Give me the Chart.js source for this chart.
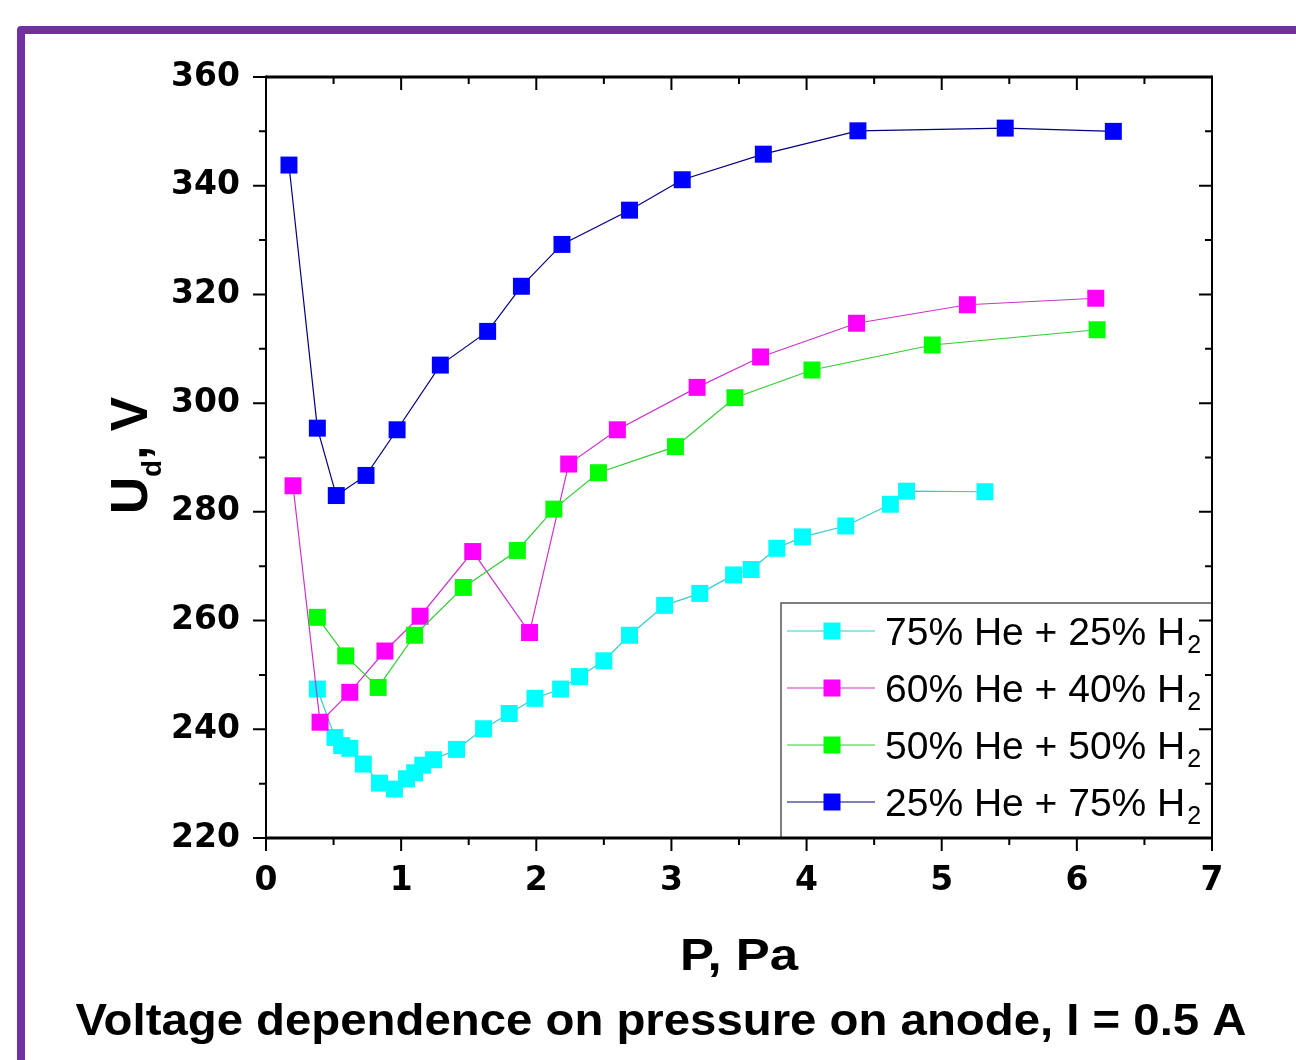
<!DOCTYPE html>
<html>
<head>
<meta charset="utf-8">
<script src="https://cdn.jsdelivr.net/npm/chart.js@4.4.1/dist/chart.umd.min.js"></script>
<style>
  html, body { margin: 0; padding: 0; background: #fff; }
  #caixa { position: relative; width: 1296px; height: 1060px; }
</style>
</head>
<body>
<div id="caixa"><canvas id="grafico" width="1296" height="1060"></canvas></div>
<script>
// P, Pa  x  U_d, V  para quatro misturas He + H2
const nomes = ['75% He + 25% H', '60% He + 40% H', '50% He + 50% H', '25% He + 75% H'];

const p75 = [0.38, 0.51, 0.56, 0.62, 0.72, 0.84, 0.95, 1.04, 1.10, 1.16, 1.24, 1.41, 1.61, 1.80, 1.99,
             2.18, 2.32, 2.50, 2.69, 2.95, 3.21, 3.46, 3.59, 3.78, 3.97, 4.29, 4.62, 4.74, 5.32];
const u75 = [247.4, 238.5, 237.0, 236.5, 233.6, 230.1, 229.0, 230.9, 232.0, 233.4, 234.4, 236.3, 240.1, 242.9, 245.7,
             247.4, 249.7, 252.6, 257.3, 262.8, 265.0, 268.4, 269.4, 273.3, 275.4, 277.4, 281.4, 283.8, 283.7];

const p60 = [0.20, 0.40, 0.62, 0.88, 1.14, 1.53, 1.95, 2.24, 2.60, 3.19, 3.66, 4.37, 5.19, 6.14];
const u60 = [284.8, 241.3, 246.8, 254.4, 260.8, 272.7, 257.8, 288.8, 295.1, 302.9, 308.5, 314.7, 318.1, 319.3];

const p50 = [0.38, 0.59, 0.83, 1.10, 1.46, 1.86, 2.13, 2.46, 3.03, 3.47, 4.04, 4.93, 6.15];
const u50 = [260.6, 253.5, 247.7, 257.3, 266.1, 272.9, 280.5, 287.2, 292.0, 301.0, 306.1, 310.7, 313.5];

const p25 = [0.17, 0.38, 0.52, 0.74, 0.97, 1.29, 1.64, 1.89, 2.19, 2.69, 3.08, 3.68, 4.38, 5.47, 6.27];
const u25 = [343.8, 295.4, 283.0, 286.7, 295.1, 307.0, 313.2, 321.5, 329.2, 335.5, 341.1, 345.8, 350.1, 350.6, 350.0];

const ticksX = [0, 1, 2, 3, 4, 5, 6, 7];
const ticksY = [220, 240, 260, 280, 300, 320, 340, 360];

const coresPonto = ['#00FFFF', '#FF00FF', '#00FF00', '#0000FF'];
const coresLinha = ['#33CCCC', '#CC33CC', '#33CC33', '#000080'];

const series = [[p75, u75], [p60, u60], [p50, u50], [p25, u25]];

function textoAjustado(ctx, txt, x, y, fonte, largura) {
  ctx.font = fonte;
  const w = ctx.measureText(txt).width;
  ctx.save();
  ctx.translate(x, y);
  ctx.scale(largura / w, 1);
  ctx.textAlign = 'center';
  ctx.textBaseline = 'alphabetic';
  ctx.fillText(txt, 0, 0);
  ctx.restore();
}

const moldura = {
  id: 'moldura',
  beforeDraw(chart) {
    const ctx = chart.ctx;
    ctx.save();
    ctx.fillStyle = '#fff';
    ctx.fillRect(0, 0, chart.width, chart.height);
    // borda roxa do slide
    ctx.strokeStyle = '#7030A0';
    ctx.lineWidth = 8;
    ctx.lineJoin = 'round';
    ctx.beginPath();
    ctx.moveTo(21, 1080);
    ctx.lineTo(21, 30);
    ctx.lineTo(1320, 30);
    ctx.stroke();
    ctx.restore();
  },
  afterDraw(chart) {
    const ctx = chart.ctx;
    const a = chart.chartArea;
    const sx = chart.scales.x, sy = chart.scales.y;
    ctx.save();

    // legenda
    ctx.fillStyle = '#fff';
    ctx.fillRect(781, 603, a.right - 781, a.bottom - 603);
    ctx.strokeStyle = '#555';
    ctx.lineWidth = 1.5;
    ctx.strokeRect(781, 603, a.right - 781, a.bottom - 603);
    const linhasLeg = [631, 688, 745, 802];
    for (let i = 0; i < nomes.length; i++) {
      const yy = linhasLeg[i];
      ctx.strokeStyle = coresLinha[i];
      ctx.lineWidth = 1.2;
      ctx.beginPath();
      ctx.moveTo(787, yy);
      ctx.lineTo(875, yy);
      ctx.stroke();
      ctx.fillStyle = coresPonto[i];
      ctx.fillRect(823.5, yy - 8.5, 17, 17);
      ctx.fillStyle = '#000';
      ctx.font = '39px "Liberation Sans", Arial, sans-serif';
      ctx.textAlign = 'left';
      ctx.textBaseline = 'alphabetic';
      ctx.fillText(nomes[i], 885, yy + 14);
      const w = ctx.measureText(nomes[i]).width;
      ctx.font = '25px "Liberation Sans", Arial, sans-serif';
      ctx.fillText('2', 885 + w + 2, yy + 22);
    }

    // moldura do gráfico
    ctx.strokeStyle = '#000';
    ctx.lineWidth = 3;
    ctx.beginPath();
    ctx.moveTo(a.left, a.top); ctx.lineTo(a.right, a.top);
    ctx.moveTo(a.left, a.bottom); ctx.lineTo(a.right, a.bottom);
    ctx.stroke();
    ctx.lineWidth = 2;
    ctx.beginPath();
    ctx.moveTo(a.left, a.top - 1.5); ctx.lineTo(a.left, a.bottom + 1.5);
    ctx.moveTo(a.right, a.top - 1.5); ctx.lineTo(a.right, a.bottom + 1.5);
    ctx.stroke();

    // marcas principais e secundárias
    ctx.lineWidth = 2;
    ctx.beginPath();
    for (let v = 0; v <= 7; v += 0.5) {
      const px = sx.getPixelForValue(v);
      const len = Number.isInteger(v) ? 13 : 7;
      ctx.moveTo(px, a.bottom); ctx.lineTo(px, a.bottom + len);
      ctx.moveTo(px, a.top); ctx.lineTo(px, a.top + len);
    }
    for (let v = 220; v <= 360; v += 10) {
      const py = sy.getPixelForValue(v);
      const len = v % 20 === 0 ? 13 : 7;
      ctx.moveTo(a.left, py); ctx.lineTo(a.left - len, py);
      ctx.moveTo(a.right, py); ctx.lineTo(a.right - len, py);
    }
    ctx.stroke();

    // títulos
    ctx.fillStyle = '#000';
    textoAjustado(ctx, 'P, Pa', 739, 970, 'bold 44px "Liberation Sans", Arial, sans-serif', 118);
    textoAjustado(ctx, 'Voltage dependence on pressure on anode, I = 0.5 A', 661, 1035,
      'bold 44px "Liberation Sans", Arial, sans-serif', 1171);

    // U_d, V na vertical
    ctx.save();
    ctx.translate(147, 514);
    ctx.rotate(-Math.PI / 2);
    const fG = 'bold 46px "Liberation Sans", Arial, sans-serif';
    const fP = 'bold 25px "Liberation Sans", Arial, sans-serif';
    ctx.font = fG; const wU = ctx.measureText('U').width;
    ctx.font = fP; const wd = ctx.measureText('d').width;
    ctx.font = fG; const wV = ctx.measureText(', V').width;
    const esc = 117 / (wU + wd + wV);
    ctx.scale(esc, 1.12);
    ctx.textAlign = 'left';
    ctx.textBaseline = 'alphabetic';
    ctx.font = fG; ctx.fillText('U', 0, 0);
    ctx.font = fP; ctx.fillText('d', wU, 12.5);
    ctx.font = fG; ctx.fillText(', V', wU + wd, 0);
    ctx.restore();

    ctx.restore();
  }
};

const ctx = document.getElementById('grafico').getContext('2d');

new Chart(ctx, {
  type: 'line',
  data: {
    datasets: series.map((s, i) => ({
      label: nomes[i] + '2',
      data: s[0].map((x, k) => ({ x: x, y: s[1][k] })),
      borderColor: coresLinha[i],
      borderWidth: 1.2,
      backgroundColor: coresPonto[i],
      pointBackgroundColor: coresPonto[i],
      pointBorderColor: coresPonto[i],
      pointBorderWidth: 0,
      pointStyle: 'rect',
      pointRadius: 12,
      tension: 0,
      fill: false,
      order: 4 - i
    }))
  },
  options: {
    responsive: false,
    animation: false,
    layout: { padding: { left: 0, top: 77, right: 84, bottom: 0 } },
    scales: {
      x: {
        type: 'linear',
        min: 0,
        max: 7,
        afterFit: (s) => { s.height = 222; },
        afterBuildTicks: (s) => { s.ticks = ticksX.map(v => ({ value: v })); },
        grid: { display: false, drawTicks: false },
        border: { display: false },
        ticks: {
          padding: 24,
          color: '#000',
          font: { family: '"DejaVu Sans"', weight: 'bold', size: 33 }
        }
      },
      y: {
        type: 'linear',
        min: 220,
        max: 360,
        afterFit: (s) => { s.width = 266; },
        afterBuildTicks: (s) => { s.ticks = ticksY.map(v => ({ value: v })); },
        grid: { display: false, drawTicks: false },
        border: { display: false },
        ticks: {
          padding: 26,
          color: '#000',
          font: { family: '"DejaVu Sans"', weight: 'bold', size: 33 }
        }
      }
    },
    plugins: {
      legend: { display: false },
      tooltip: { enabled: false }
    }
  },
  plugins: [moldura]
});
</script>
</body>
</html>
